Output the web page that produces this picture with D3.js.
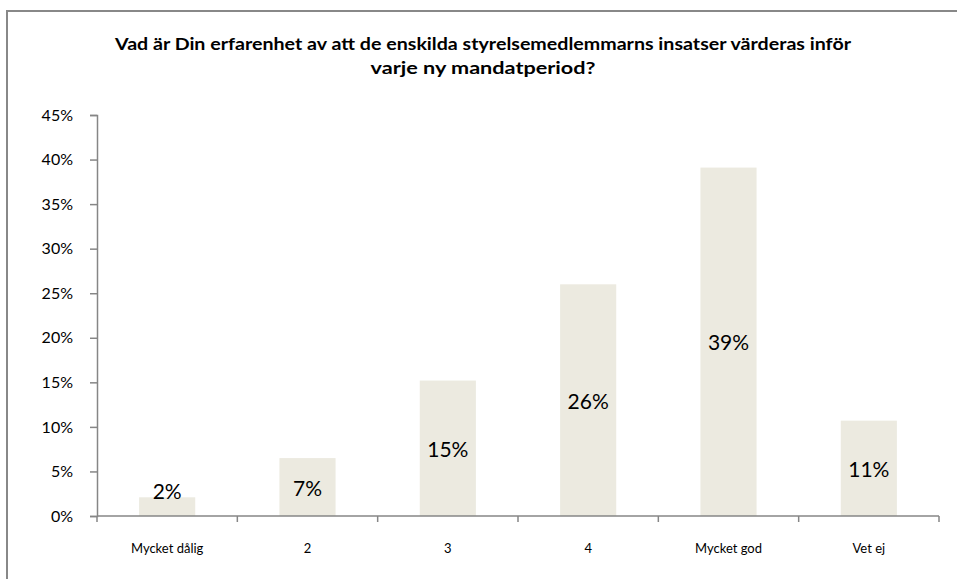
<!DOCTYPE html>
<html>
<head>
  <meta charset="utf-8">
  <title>Styrelseutvärdering</title>
  <style>
    body { margin: 0; background: #fff; }
    text { font-family: Lato, "Open Sans", sans-serif; fill: #000; }
    .title { font-weight: bold; font-size: 17.5px; }
    .axis path, .axis line { stroke: #868686; stroke-width: 1.5px; }
    .axis text { font-family: Lato, sans-serif; }
    .bar { fill: #ECEAE0; }
    .label { font-size: 21px; }
  </style>
</head>
<body>
  <script src="https://d3js.org/d3.v7.min.js"></script>
  <svg width="957" height="579"></svg>
  <script>
    var categories = ["Mycket dålig", "2", "3", "4", "Mycket god", "Vet ej"];
    var values = [0.021, 0.065, 0.152, 0.26, 0.391, 0.107];
    var valueLabels = ["2%", "7%", "15%", "26%", "39%", "11%"];
    var yTicks = [0, 0.05, 0.10, 0.15, 0.20, 0.25, 0.30, 0.35, 0.40, 0.45];
    var titleLines = ["Vad är Din erfarenhet av att de enskilda styrelsemedlemmarns insatser värderas inför",
                      "varje ny mandatperiod?"];
    var titleWidths = [736, 225];

    var svg = d3.select("svg");

    // chart frame
    svg.append("rect")
        .attr("x", 7)
        .attr("y", 11)
        .attr("width", 970)
        .attr("height", 600)
        .attr("fill", "none")
        .attr("stroke", "#888")
        .attr("stroke-width", 2);

    titleLines.forEach(function(t, i) {
      svg.append("text")
          .attr("class", "title")
          .attr("x", 483 - titleWidths[i] / 2)
          .attr("y", 50 + i * 24)
          .attr("textLength", titleWidths[i])
          .attr("lengthAdjust", "spacingAndGlyphs")
          .text(t);
    });

    var x = d3.scaleBand()
        .domain(categories)
        .range([97, 939])
        .paddingInner(0.6)
        .paddingOuter(0.3);

    var y = d3.scaleLinear()
        .domain([0, 0.45])
        .range([516, 115]);

    var yAxis = svg.append("g")
        .attr("class", "axis")
        .attr("transform", "translate(97,0)")
        .call(d3.axisLeft(y)
              .tickValues(yTicks)
              .tickFormat(d3.format(".0%"))
              .tickSize(7)
              .tickSizeOuter(7)
              .tickPadding(17));
    yAxis.selectAll("text").style("font-size", "16px");

    // x axis: ticks sit on the category boundaries
    var xAxis = svg.append("g")
        .attr("class", "axis")
        .attr("transform", "translate(0,516)");
    xAxis.append("line")
        .attr("x1", 97).attr("x2", 939)
        .attr("y1", 0).attr("y2", 0);
    var bounds = categories.map(function(c) { return x(c) - x.step() * 0.3; });
    bounds.push(939);
    xAxis.selectAll(".tick")
        .data(bounds)
        .enter()
        .append("line")
        .attr("x1", function(d) { return d; })
        .attr("x2", function(d) { return d; })
        .attr("y1", 0)
        .attr("y2", 6);
    xAxis.selectAll(".cat")
        .data(categories)
        .enter()
        .append("text")
        .attr("x", function(d) { return x(d) + x.bandwidth() / 2; })
        .attr("y", 37)
        .attr("text-anchor", "middle")
        .style("font-size", "13px")
        .text(function(d) { return d; });

    svg.selectAll(".bar")
        .data(values)
        .enter()
        .append("rect")
        .attr("class", "bar")
        .attr("x", function(d, i) { return x(categories[i]); })
        .attr("y", function(d) { return y(d); })
        .attr("width", x.bandwidth())
        .attr("height", function(d) { return y(0) - y(d); })
        .lower();

    svg.select("rect").lower();

    svg.selectAll(".label")
        .data(values)
        .enter()
        .append("text")
        .attr("class", "label")
        .attr("text-anchor", "middle")
        .attr("dominant-baseline", "central")
        .attr("x", function(d, i) { return x(categories[i]) + x.bandwidth() / 2; })
        .attr("y", function(d) { return Math.min((y(d) + y(0)) / 2, y(0) - 26); })
        .text(function(d, i) { return valueLabels[i]; });
  </script>
</body>
</html>
